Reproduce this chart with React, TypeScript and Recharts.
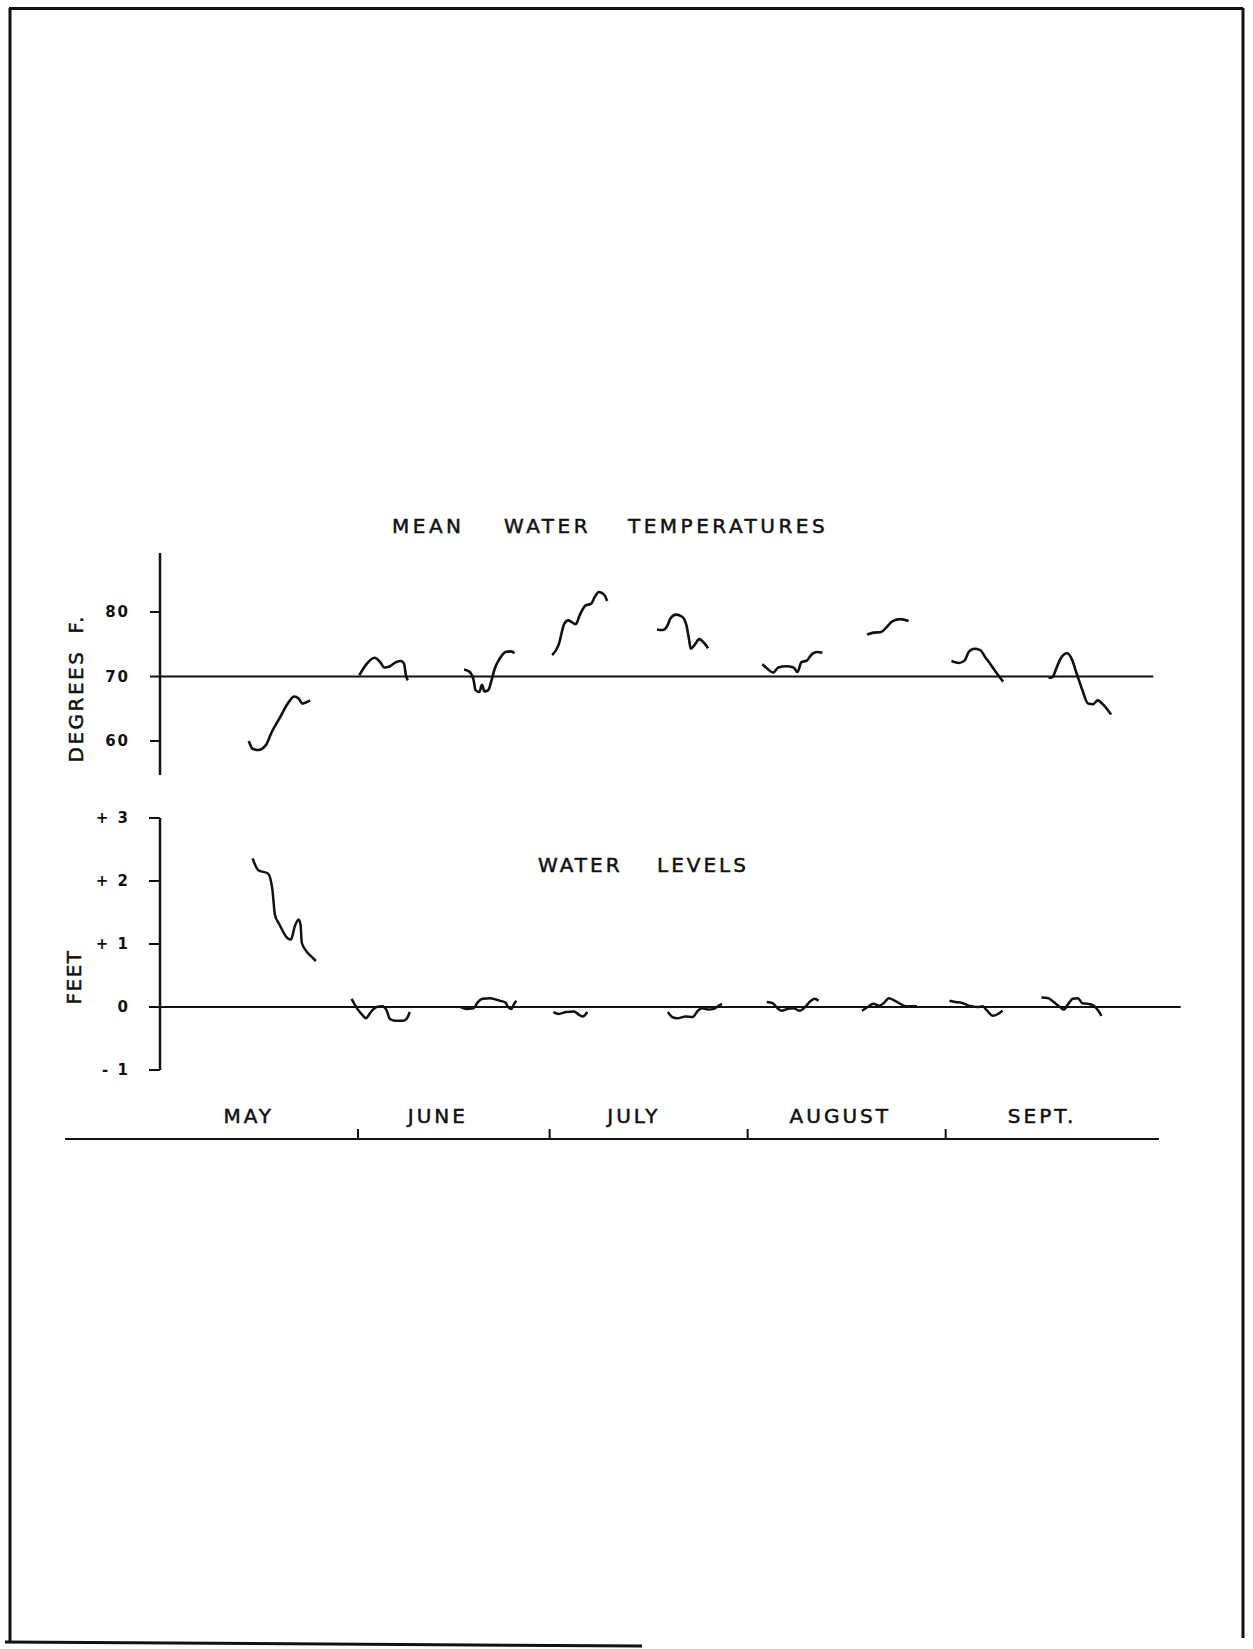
import React from 'react';
import { LineChart, Line, XAxis, YAxis, ReferenceLine } from 'recharts';

// days counted from May 1; temperatures in degrees F, levels in feet
const tempMay = [[13.9, 60.0], [14.5, 58.8], [15.4, 58.6], [16.6, 59.4], [17.5, 61.4], [18.7, 63.5], [20.2, 66.1], [21.0, 66.9], [21.7, 66.6], [22.3, 65.8], [22.9, 66.0], [23.5, 66.3]];
const tempJuneA = [[31.2, 70.2], [32.4, 72.0], [33.6, 72.9], [34.5, 72.2], [35.1, 71.4], [36.0, 71.6], [36.9, 72.2], [37.7, 72.4], [38.2, 72.0], [38.5, 70.2], [38.8, 69.4]];
const tempJuneB = [[47.6, 71.1], [48.5, 70.7], [49.1, 69.4], [49.4, 67.9], [50.0, 67.6], [50.4, 68.7], [50.8, 67.7], [51.4, 67.9], [51.9, 69.4], [52.4, 71.2], [53.2, 72.8], [54.1, 73.8], [55.0, 73.9], [55.5, 73.6]];
const tempJulyA = [[61.4, 73.3], [62.4, 74.9], [63.3, 78.2], [63.9, 78.7], [65.1, 78.1], [65.7, 79.5], [66.6, 81.0], [67.5, 81.3], [68.1, 82.4], [68.7, 83.1], [69.6, 82.6], [70.0, 81.7]];
const tempJulyB = [[77.8, 77.3], [78.7, 77.2], [79.5, 78.0], [79.9, 79.0], [80.8, 79.6], [81.7, 79.3], [82.4, 78.0], [82.8, 75.9], [83.1, 74.3], [83.7, 74.9], [84.4, 75.8], [85.0, 75.4], [85.8, 74.4]];
const tempAugA = [[94.3, 71.9], [95.1, 71.2], [96.0, 70.6], [96.8, 71.4], [98.0, 71.6], [99.2, 71.4], [99.8, 70.7], [100.4, 72.2], [101.3, 72.5], [101.9, 73.3], [102.8, 73.8], [103.7, 73.7]];
const tempAugB = [[110.7, 76.5], [111.7, 76.8], [112.9, 76.9], [113.8, 77.7], [114.7, 78.6], [115.9, 78.9], [117.2, 78.6]];
const tempSeptA = [[123.9, 72.4], [125.1, 72.1], [126.0, 72.5], [126.6, 73.8], [127.5, 74.3], [128.4, 74.1], [129.2, 73.0], [130.1, 71.8], [131.0, 70.5], [132.0, 69.2]];
const tempSeptB = [[139.1, 69.8], [139.7, 69.9], [140.3, 71.2], [141.0, 72.8], [142.0, 73.6], [142.7, 72.8], [143.5, 70.5], [144.4, 67.9], [145.3, 65.8], [146.1, 65.7], [146.8, 66.3], [147.7, 65.6], [148.9, 64.1]];

const levelMay = [[14.5, 2.36], [15.4, 2.17], [16.9, 2.12], [17.6, 1.86], [18.0, 1.46], [18.7, 1.31], [19.9, 1.10], [20.5, 1.07], [21.1, 1.28], [21.7, 1.39], [22.0, 1.31], [22.2, 1.02], [22.9, 0.89], [23.6, 0.81], [24.4, 0.73]];
const levelJuneA = [[30.0, 0.13], [30.9, -0.03], [31.8, -0.14], [32.2, -0.18], [33.0, -0.08], [33.9, 0.0], [34.8, 0.01], [35.5, -0.06], [36.0, -0.19], [36.9, -0.22], [38.0, -0.22], [38.6, -0.19], [39.1, -0.08]];
const levelJuneB = [[47.0, 0.0], [47.9, -0.03], [49.1, -0.02], [49.7, 0.07], [50.5, 0.13], [51.7, 0.14], [53.2, 0.10], [54.1, 0.07], [54.5, 0.0], [55.0, -0.03], [55.5, 0.06], [55.8, 0.10]];
const levelJulyA = [[61.6, -0.08], [62.4, -0.11], [63.6, -0.08], [64.8, -0.07], [65.7, -0.13], [66.2, -0.15], [66.9, -0.08]];
const levelJulyB = [[79.5, -0.08], [80.2, -0.16], [81.0, -0.18], [82.3, -0.15], [83.4, -0.16], [84.2, -0.06], [84.9, -0.02], [85.8, -0.04], [86.7, -0.03], [87.6, 0.03], [88.0, 0.05]];
const levelAugA = [[95.0, 0.08], [95.9, 0.06], [96.5, 0.0], [97.3, -0.06], [98.3, -0.03], [99.2, -0.02], [100.1, -0.06], [101.0, 0.0], [101.9, 0.10], [102.5, 0.13], [103.1, 0.10]];
const levelAugB = [[109.9, -0.06], [110.8, 0.0], [111.7, 0.05], [112.6, 0.02], [113.4, 0.07], [114.1, 0.14], [115.0, 0.10], [115.9, 0.05], [116.8, 0.01], [117.6, 0.01], [118.5, 0.01]];
const levelSeptA = [[123.6, 0.10], [124.5, 0.08], [125.7, 0.06], [126.4, 0.03], [127.2, 0.01], [128.0, 0.0], [128.8, 0.01], [129.5, -0.06], [130.4, -0.14], [131.2, -0.11], [131.9, -0.06]];
const levelSeptB = [[138.0, 0.15], [139.1, 0.14], [140.0, 0.07], [140.9, 0.0], [141.5, -0.04], [142.2, 0.05], [142.9, 0.13], [143.7, 0.14], [144.4, 0.06], [145.3, 0.05], [146.2, 0.02], [146.9, -0.06], [147.4, -0.14]];

const tempTicks = [60, 70, 80];
const levelTicks = [-1, 0, 1, 2, 3];
const monthStarts = [31, 61, 92, 123];
const monthNames = ['MAY', 'JUNE', 'JULY', 'AUGUST', 'SEPT.'];
const monthLabelDays = [13.9, 43.5, 74.2, 106.5, 138.1];

const tempSegments = [tempMay, tempJuneA, tempJuneB, tempJulyA, tempJulyB, tempAugA, tempAugB, tempSeptA, tempSeptB];
const levelSegments = [levelMay, levelJuneA, levelJuneB, levelJulyA, levelJulyB, levelAugA, levelAugB, levelSeptA, levelSeptB];

const toPts = (seg: number[][]) => seg.map(([d, v]) => ({ d, v }));

const FONT = '"DejaVu Sans", sans-serif';
const tickStyle = { fontFamily: FONT, fontSize: 15, fontWeight: 700, fill: '#111', letterSpacing: 2 };

const fmtLevel = (v: number) => (v > 0 ? `+ ${v}` : v < 0 ? `- ${-v}` : '0');

const MonthTick = (props: any) => {
  const { x, y, payload } = props;
  const i = monthLabelDays.indexOf(payload.value);
  if (i >= 0) {
    return (
      <text x={x} y={y - 16} textAnchor="middle" fontFamily={FONT} fontSize={20} letterSpacing={3} fill="#111" stroke="#111" strokeWidth={0.5}>
        {monthNames[i]}
      </text>
    );
  }
  return <line x1={x} y1={y} x2={x} y2={y - 10} stroke="#111" strokeWidth={2} />;
};

const App = () => {
  return (
    <div style={{ position: 'absolute', left: 0, top: 0, width: 1253, height: 1649, background: '#fff', overflow: 'hidden' }}>
      <svg width={1253} height={1649} style={{ position: 'absolute', left: 0, top: 0 }}>
        <g stroke="#111" strokeWidth={3}>
          <line x1={10} y1={8} x2={10} y2={1643} />
          <line x1={9} y1={8.5} x2={1243} y2={8.5} />
          <line x1={1243} y1={8} x2={1243} y2={1638} />
          <line x1={5} y1={1642} x2={642} y2={1646} />
        </g>
        <g fontFamily={FONT} fontSize={20} fill="#111" stroke="#111" strokeWidth={0.5} letterSpacing={3.5}>
          <text x={392} y={533}>MEAN</text>
          <text x={504} y={533}>WATER</text>
          <text x={628} y={533}>TEMPERATURES</text>
          <text x={538} y={872} letterSpacing={3}>WATER</text>
          <text x={657} y={872} letterSpacing={3}>LEVELS</text>
        </g>
        <g fontFamily={FONT} fontSize={20} fill="#111" stroke="#111" strokeWidth={0.5} letterSpacing={2.5} textAnchor="middle" dominantBaseline="central">
          <text transform="translate(76,706) rotate(-90)">DEGREES</text>
          <text transform="translate(76,624) rotate(-90)">F.</text>
          <text transform="translate(74,977) rotate(-90)" letterSpacing={1.5}>FEET</text>
        </g>
      </svg>

      <div style={{ position: 'absolute', left: 0, top: 540 }}>
        <LineChart width={1253} height={250} margin={{ top: 13, right: 71, left: 100, bottom: 15 }}>
          <XAxis type="number" dataKey="d" domain={[0, 160]} hide allowDataOverflow />
          <YAxis
            type="number"
            width={60}
            domain={[54.73, 89.15]}
            ticks={tempTicks}
            tickSize={10}
            tickMargin={20}
            tick={tickStyle}
            axisLine={{ stroke: '#111', strokeWidth: 2.5 }}
            tickLine={{ stroke: '#111', strokeWidth: 2 }}
            allowDataOverflow
          />
          <ReferenceLine segment={[{ x: 0, y: 70 }, { x: 155.5, y: 70 }]} stroke="#111" strokeWidth={2} />
          {tempSegments.map((seg, i) => (
            <Line key={i} data={toPts(seg)} dataKey="v" type="monotone" dot={false} stroke="#111" strokeWidth={2.6} isAnimationActive={false} />
          ))}
        </LineChart>
      </div>

      <div style={{ position: 'absolute', left: 0, top: 800 }}>
        <LineChart width={1253} height={290} margin={{ top: 18, right: 71, left: 100, bottom: 20 }}>
          <XAxis type="number" dataKey="d" domain={[0, 160]} hide allowDataOverflow />
          <YAxis
            type="number"
            width={60}
            domain={[-1, 3]}
            ticks={levelTicks}
            tickFormatter={fmtLevel}
            tickSize={11}
            tickMargin={19}
            tick={tickStyle}
            axisLine={{ stroke: '#111', strokeWidth: 2.5 }}
            tickLine={{ stroke: '#111', strokeWidth: 2 }}
            allowDataOverflow
          />
          <ReferenceLine segment={[{ x: 0, y: 0 }, { x: 159.8, y: 0 }]} stroke="#111" strokeWidth={2} />
          {levelSegments.map((seg, i) => (
            <Line key={i} data={toPts(seg)} dataKey="v" type="monotone" dot={false} stroke="#111" strokeWidth={2.5} isAnimationActive={false} />
          ))}
        </LineChart>
      </div>

      <div style={{ position: 'absolute', left: 0, top: 1080 }}>
        <LineChart width={1253} height={70} margin={{ top: 0, right: 94, left: 65, bottom: 0 }} data={monthStarts.map((d) => ({ d, v: 0 }))}>
          <XAxis
            type="number"
            dataKey="d"
            orientation="top"
            height={59}
            domain={[-14.87, 156.4]}
            ticks={[...monthLabelDays.slice(0, 1), ...monthStarts.flatMap((s, i) => [s, monthLabelDays[i + 1]])]}
            interval={0}
            tickSize={0}
            tickMargin={0}
            tickLine={false}
            tick={<MonthTick />}
            axisLine={{ stroke: '#111', strokeWidth: 2.2 }}
            allowDataOverflow
          />
          <YAxis hide domain={[0, 1]} />
        </LineChart>
      </div>
    </div>
  );
};

export default App;
